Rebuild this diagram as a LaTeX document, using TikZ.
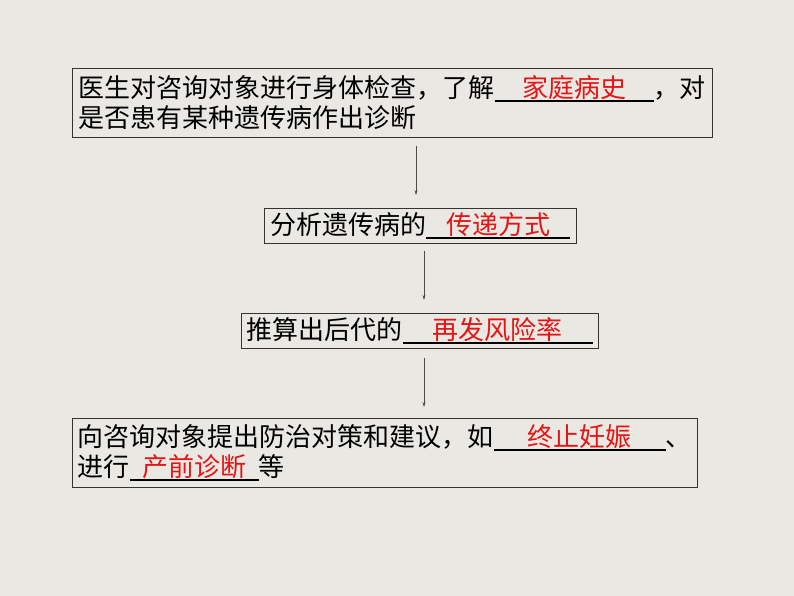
\documentclass[tikz,border=0pt]{standalone}
\usepackage{fontspec}
\setmainfont{Noto Sans CJK SC}
\usetikzlibrary{arrows.meta}
\definecolor{paper}{RGB}{234,232,227}
\definecolor{ans}{RGB}{230,20,20}
\newcommand{\fillin}[2]{\rlap{\rule[-4pt]{#1}{1.8pt}}\makebox[#1][c]{\textcolor{ans}{#2}}}

\begin{document}
\begin{tikzpicture}[x=1pt, y=-1pt,
	stepbox/.style={draw=black!80, line width=0.7pt, inner xsep=5pt, inner ysep=0pt,
		align=left, font=\fontsize{26}{30}\selectfont, anchor=north west},
	flow/.style={draw=black!70, line width=0.6pt, -{Stealth[length=5pt,width=3pt]}}]
	
	\fill[paper] (0,0) rectangle (794,596);
	
	\node[stepbox, minimum width=640pt, minimum height=69pt] (exam) at (72,68)
		{医生对咨询对象进行身体检查，了解\fillin{159pt}{家庭病史}，对\\是否患有某种遗传病作出诊断};
	\node[stepbox, minimum width=312pt, minimum height=35pt] (mode) at (264,208)
		{分析遗传病的\fillin{144pt}{传递方式}};
	\node[stepbox, minimum width=357pt, minimum height=35pt] (risk) at (241,313)
		{推算出后代的\fillin{190pt}{再发风险率}};
	\node[stepbox, minimum width=625pt, minimum height=69pt] (advice) at (72,418)
		{向咨询对象提出防治对策和建议，如\fillin{172pt}{终止妊娠}、\\进行\fillin{129pt}{产前诊断}等};
	
	\draw[flow, shorten <=8pt, shorten >=13pt] (exam.south -| 416,0) -- (mode.north -| 416,0);
	\draw[flow, shorten <=7pt, shorten >=13pt] (mode.south -| 424,0) -- (risk.north -| 424,0);
	\draw[flow, shorten <=9pt, shorten >=11pt] (risk.south -| 424,0) -- (advice.north -| 424,0);
\end{tikzpicture}
\end{document}
